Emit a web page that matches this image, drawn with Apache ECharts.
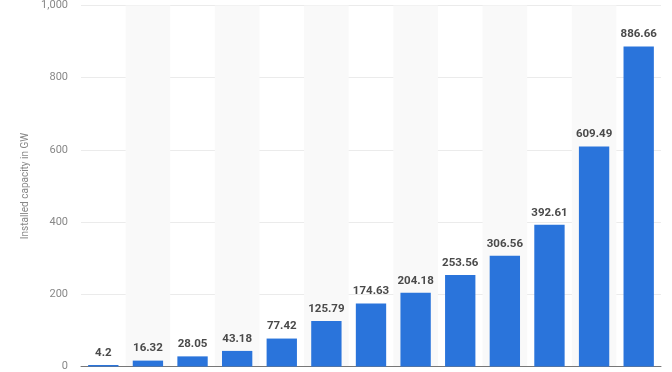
<!DOCTYPE html>
<html><head><meta charset="utf-8">
<script src="https://cdn.jsdelivr.net/npm/echarts@6/dist/echarts.min.js"></script>
<style>html,body{margin:0;padding:0;background:#fff}#c{width:672px;height:372px}</style>
</head><body><div id="c"></div>
<script>
const categories = ['2010','2011','2012','2013','2014','2015','2016','2017','2018','2019','2020','2021','2022'];
const values = [4.2, 16.32, 28.05, 43.18, 77.42, 125.79, 174.63, 204.18, 253.56, 306.56, 392.61, 609.49, 886.66];
const yTicks = [0, 200, 400, 600, 800, 1000];
const yAxisTitle = 'Installed capacity in GW';

const chart = echarts.init(document.getElementById('c'), null, {renderer: 'canvas'});
chart.setOption({
  animation: false,
  grid: {left: 81, right: 11, top: 4, height: 366, containLabel: false},
  xAxis: {
    type: 'category', data: categories,
    axisLine: {show: true, lineStyle: {color: '#777', width: 1}},
    axisTick: {show: false},
    axisLabel: {show: false},
    splitArea: {show: true, interval: 0, areaStyle: {color: ['rgba(255,255,255,0)', '#f9f9f9']}}
  },
  yAxis: {
    type: 'value', min: yTicks[0], max: yTicks[yTicks.length - 1], interval: 200,
    name: yAxisTitle, nameLocation: 'middle', nameGap: 47, nameRotate: 90,
    nameTextStyle: {color: '#888', fontSize: 10, fontFamily: 'Roboto'},
    axisLine: {show: false}, axisTick: {show: false},
    axisLabel: {color: '#888', fontSize: 11, fontFamily: 'Roboto', margin: 13,
      formatter: v => v.toLocaleString('en-US')},
    splitLine: {show: true, lineStyle: {color: '#ebebeb', width: 1}}
  },
  series: [{
    type: 'bar', data: values, barWidth: '68%',
    itemStyle: {color: '#2a74db'},
    label: {show: true, position: 'top', distance: 6, color: '#4a4a4a', fontSize: 11.5,
      fontWeight: 'bold', fontFamily: 'Roboto'}
  }]
});
</script></body></html>
